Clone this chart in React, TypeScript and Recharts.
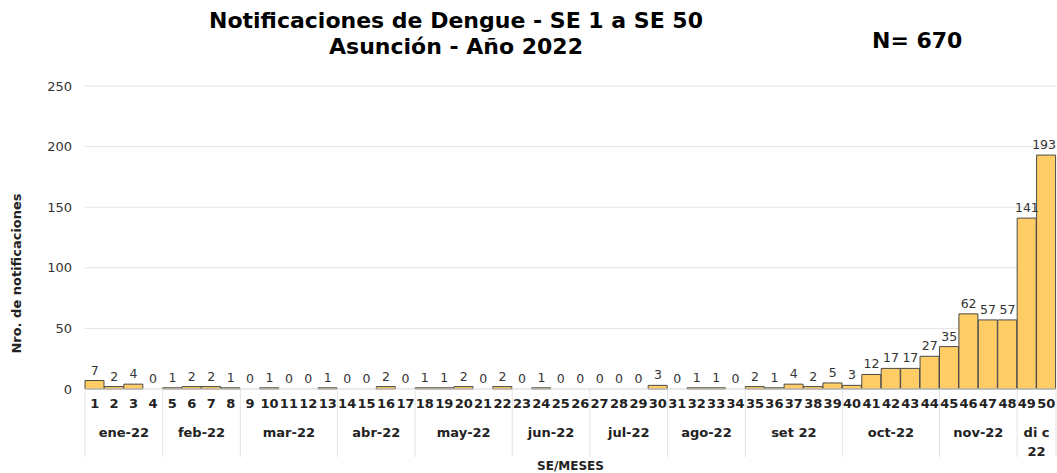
import React from 'react'
import { ComposedChart, Bar, Line, XAxis, YAxis, CartesianGrid, Label } from 'recharts'

const semanas = Array.from({ length: 50 }, (_, i) => String(i + 1))
const notificaciones = [
  7, 2, 4, 0, 1, 2, 2, 1, 0, 1, 0, 0, 1, 0, 0, 2, 0, 1, 1, 2,
  0, 2, 0, 1, 0, 0, 0, 0, 0, 3, 0, 1, 1, 0, 2, 1, 4, 2, 5, 3,
  12, 17, 17, 27, 35, 62, 57, 57, 141, 193,
]
const meses = ['ene-22', 'feb-22', 'mar-22', 'abr-22', 'may-22', 'jun-22', 'jul-22', 'ago-22', 'set 22', 'oct-22', 'nov-22', 'di c\n22']
const semanasPorMes = [4, 4, 5, 4, 5, 4, 4, 4, 5, 5, 4, 2]
const yTicks = [0, 50, 100, 150, 200, 250]

const data = semanas.map((se, i) => ({ se, valor: notificaciones[i] }))

// first week index of each month
const inicioMes: number[] = []
semanasPorMes.reduce((acc, n) => { inicioMes.push(acc); return acc + n }, 0)

const W = 1057
const H = 473
const LEFT = 85
const RIGHT = 1
const FONT = '"DejaVu Sans", Verdana, sans-serif'
const band = (W - LEFT - RIGHT) / semanas.length

const MonthTick = (props: any) => {
  const { x, y, index } = props
  const m = inicioMes.indexOf(index)
  if (m < 0) return null
  const n = semanasPorMes[m]
  const left = x - band / 2
  const cx = left + (n * band) / 2
  const lines = meses[m].split('\n')
  const isLast = m === meses.length - 1
  return (
    <g>
      <line x1={left} x2={left} y1={y - 25} y2={y + 43} stroke="#e2e2e2" />
      {isLast && <line x1={left + n * band} x2={left + n * band} y1={y - 25} y2={y + 43} stroke="#e2e2e2" />}
      {lines.map((t, k) => (
        <text key={k} x={cx} y={y + 23 + k * 19} textAnchor="middle" fontSize={13} fontWeight="bold" fill="#222" fontFamily={FONT}>
          {t}
        </text>
      ))}
    </g>
  )
}

const ValueLabel = (props: any) => {
  const { x, y, value } = props
  const nearEdge = x + band / 2 > W - 4
  return (
    <text
      x={nearEdge ? W - 1 : x}
      y={y - 6}
      textAnchor={nearEdge ? 'end' : 'middle'}
      fontSize={12.5}
      fill="#333"
      fontFamily={FONT}
    >
      {value}
    </text>
  )
}

export default function App() {
  return (
    <div style={{ position: 'absolute', left: 0, top: 0, width: W, height: H, background: '#fff', fontFamily: FONT }}>
      <div style={{ position: 'absolute', left: 0, width: 912, top: 8, textAlign: 'center', fontSize: 22, fontWeight: 'bold', lineHeight: '26px', color: '#000' }}>
        Notificaciones de Dengue - SE 1 a SE 50
        <br />
        Asunción - Año 2022
      </div>
      <div style={{ position: 'absolute', left: 872, top: 28, fontSize: 22, fontWeight: 'bold', color: '#000' }}>
        N= 670
      </div>
      <ComposedChart width={W} height={H} data={data} margin={{ top: 86, right: RIGHT, bottom: 0, left: 0 }} barCategoryGap={0}>
        <CartesianGrid vertical={false} stroke="#e4e4e4" />
        <XAxis
          dataKey="se"
          interval={0}
          height={25}
          tickLine={false}
          axisLine={{ stroke: '#e4e4e4' }}
          tickMargin={4}
          tick={{ fontSize: 13, fontWeight: 'bold', fill: '#222', fontFamily: FONT }}
        />
        <XAxis
          dataKey="se"
          xAxisId="mes"
          interval={0}
          height={59}
          tickLine={false}
          axisLine={false}
          tickSize={0}
          tickMargin={0}
          tick={<MonthTick />}
        >
          <Label value="SE/MESES" position="insideBottom" offset={3} style={{ fontSize: 12, fontWeight: 'bold', fill: '#222', fontFamily: FONT }} />
        </XAxis>
        <YAxis
          width={LEFT}
          domain={[0, 250]}
          ticks={yTicks}
          tickLine={false}
          axisLine={false}
          tickMargin={7}
          tick={{ fontSize: 13, fill: '#333', fontFamily: FONT }}
        >
          <Label
            content={(p: any) => {
              const vb = p.viewBox
              const cx = 21
              const cy = vb.y + vb.height / 2 + 36
              return (
                <text x={cx} y={cy} transform={`rotate(-90 ${cx} ${cy})`} textAnchor="middle" fontSize={13} fontWeight="bold" fill="#222" fontFamily={FONT}>
                  Nro. de notificaciones
                </text>
              )
            }}
          />
        </YAxis>
        <Bar dataKey="valor" fill="#ffcc66" stroke="#4a4a4a" strokeWidth={1} isAnimationActive={false} />
        <Line dataKey="valor" stroke="none" dot={false} activeDot={false} label={<ValueLabel />} isAnimationActive={false} />
      </ComposedChart>
    </div>
  )
}
